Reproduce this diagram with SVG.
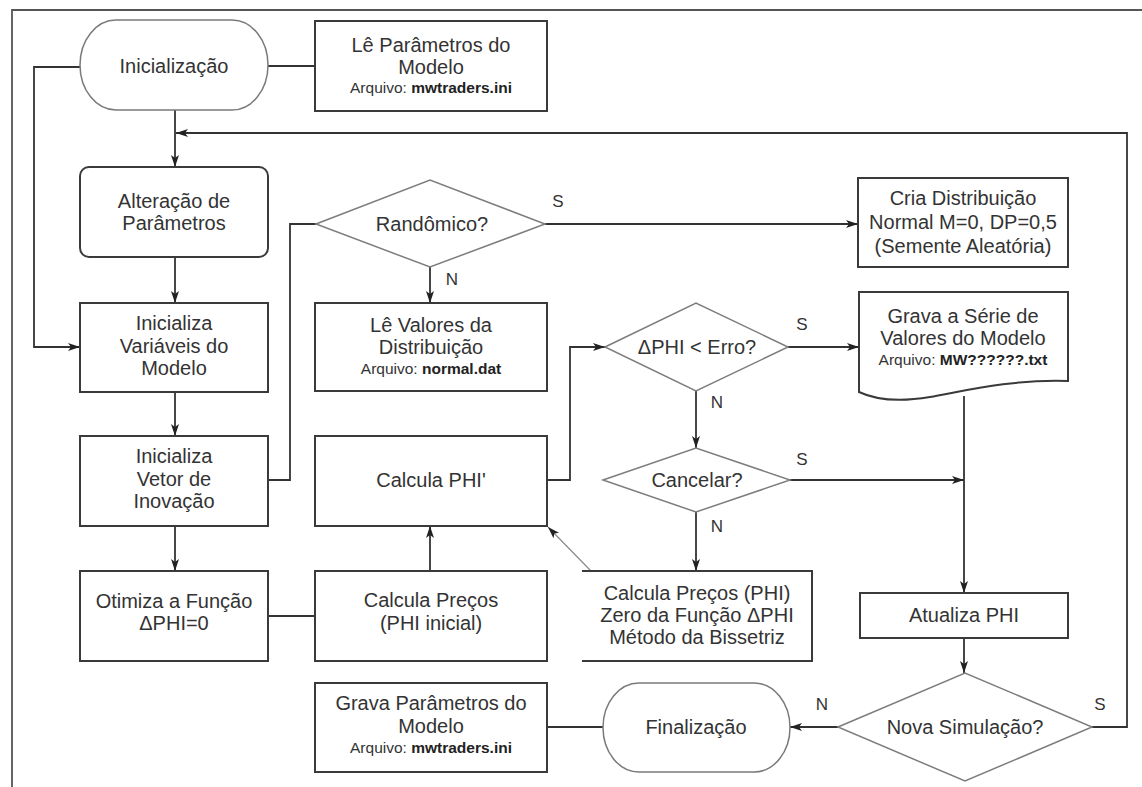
<svg xmlns="http://www.w3.org/2000/svg" width="1142" height="787" viewBox="0 0 1142 787">
<defs>
<style>
.box{fill:#fff;stroke:#3a3a3a;stroke-width:2}
.term{fill:#fff;stroke:#7a7a7a;stroke-width:1.5}
.dia{fill:#fff;stroke:#7d7d7d;stroke-width:1.5}
.ln{fill:none;stroke:#333;stroke-width:1.8}
.thin{fill:none;stroke:#8a8a8a;stroke-width:1.2}
text{font-family:"Liberation Sans",Arial,sans-serif;fill:#333;text-anchor:middle}
.t{font-size:20px}
.s{font-size:15.5px}
.b{font-weight:bold;fill:#222}
.lb{font-size:17px;fill:#333}
</style>
<marker id="ar" viewBox="0 0 12 8" refX="12" refY="4" markerWidth="12" markerHeight="8" markerUnits="userSpaceOnUse" orient="auto">
<path d="M0,0 L12,4 L0,8 L3,4 Z" fill="#222"/>
</marker>
</defs>
<rect width="1142" height="787" fill="#fff"/>
<path d="M12,787 V10 H1142" fill="none" stroke="#555" stroke-width="1.8"/>

<g id="connectors">
<path class="ln" d="M268,66 H315"/>
<path class="ln" d="M80,67 H34 V347 H80" marker-end="url(#ar)"/>
<path class="ln" d="M175,110 V167" marker-end="url(#ar)"/>
<path class="ln" d="M1092,727 H1127 V133 H176" marker-end="url(#ar)"/>
<path class="ln" d="M175,257 V303" marker-end="url(#ar)"/>
<path class="ln" d="M175,392 V436" marker-end="url(#ar)"/>
<path class="ln" d="M175,526 V571" marker-end="url(#ar)"/>
<path class="ln" d="M268,616 H315"/>
<path class="ln" d="M268,480 H290 V224 H316"/>
<path class="ln" d="M545,224 H858" marker-end="url(#ar)"/>
<path class="ln" d="M430,267 V303" marker-end="url(#ar)"/>
<path class="ln" d="M430,571 V526" marker-end="url(#ar)"/>
<path class="ln" d="M547,480 H570 V347 H605" marker-end="url(#ar)"/>
<path class="ln" d="M788,347 H859" marker-end="url(#ar)"/>
<path class="ln" d="M696,391 V448" marker-end="url(#ar)"/>
<path class="ln" d="M696,512 V571" marker-end="url(#ar)"/>
<path class="ln" d="M790,480 H964" marker-end="url(#ar)"/>
<path class="ln" d="M964,396 V593" marker-end="url(#ar)"/>
<path class="ln" d="M964,638 V673" marker-end="url(#ar)"/>
<path class="ln" d="M838,727 H790" marker-end="url(#ar)"/>
<path class="ln" d="M603,727 H547"/>
<path class="thin" d="M591,571 L548,527" marker-end="url(#ar)"/>
<text class="lb" x="558" y="207">S</text>
<text class="lb" x="452" y="285">N</text>
<text class="lb" x="802" y="330">S</text>
<text class="lb" x="717" y="408">N</text>
<text class="lb" x="802" y="465">S</text>
<text class="lb" x="717" y="532">N</text>
<text class="lb" x="822" y="710">N</text>
<text class="lb" x="1100" y="710">S</text>
</g>

<g id="inicializacao">
<rect class="term" x="80" y="20" width="188" height="90" rx="36" ry="45"/>
<text class="t" x="174" y="73">Inicialização</text>
</g>

<g id="le-parametros">
<rect class="box" x="315" y="21" width="232" height="90"/>
<text class="t" x="431" y="52">Lê Parâmetros do</text>
<text class="t" x="431" y="74">Modelo</text>
<text class="s" x="431" y="93">Arquivo: <tspan class="b">mwtraders.ini</tspan></text>
</g>

<g id="alteracao">
<rect class="box" x="80" y="167" width="188" height="90" rx="9" ry="9"/>
<text class="t" x="174" y="208">Alteração de</text>
<text class="t" x="174" y="230">Parâmetros</text>
</g>

<g id="randomico">
<polygon class="dia" points="316,224 430,180 545,224 430,267"/>
<text class="t" x="432" y="231">Randômico?</text>
</g>

<g id="cria-distribuicao">
<rect class="box" x="858" y="178" width="210" height="89"/>
<text class="t" x="963" y="205">Cria Distribuição</text>
<text class="t" x="963" y="229">Normal M=0, DP=0,5</text>
<text class="t" x="963" y="253">(Semente Aleatória)</text>
</g>

<g id="inicializa-variaveis">
<rect class="box" x="80" y="303" width="188" height="89"/>
<text class="t" x="174" y="330">Inicializa</text>
<text class="t" x="174" y="353">Variáveis do</text>
<text class="t" x="174" y="375">Modelo</text>
</g>

<g id="le-valores">
<rect class="box" x="315" y="303" width="232" height="88"/>
<text class="t" x="431" y="332">Lê Valores da</text>
<text class="t" x="431" y="354">Distribuição</text>
<text class="s" x="431" y="374">Arquivo: <tspan class="b">normal.dat</tspan></text>
</g>

<g id="delta-phi-erro">
<polygon class="dia" points="605,347 696,303 788,347 696,391"/>
<text class="t" x="697" y="354">ΔPHI &lt; Erro?</text>
</g>

<g id="grava-serie">
<path class="box" d="M859,292 H1068 V381 C1010,379 960,392 930,397 C900,402 878,401 859,392 Z"/>
<text class="t" x="963" y="323">Grava a Série de</text>
<text class="t" x="963" y="345">Valores do Modelo</text>
<text class="s" x="963" y="365">Arquivo: <tspan class="b">MW??????.txt</tspan></text>
</g>

<g id="inicializa-vetor">
<rect class="box" x="80" y="436" width="188" height="90"/>
<text class="t" x="174" y="463">Inicializa</text>
<text class="t" x="174" y="486">Vetor de</text>
<text class="t" x="174" y="508">Inovação</text>
</g>

<g id="calcula-phi-linha">
<rect class="box" x="315" y="436" width="232" height="90"/>
<text class="t" x="431" y="487">Calcula PHI'</text>
</g>

<g id="cancelar">
<polygon class="dia" points="603,480 696,448 790,480 696,512"/>
<text class="t" x="697" y="487">Cancelar?</text>
</g>

<g id="otimiza">
<rect class="box" x="80" y="571" width="188" height="90"/>
<text class="t" x="174" y="608">Otimiza a Função</text>
<text class="t" x="174" y="630">ΔPHI=0</text>
</g>

<g id="calcula-precos-inicial">
<rect class="box" x="315" y="571" width="232" height="90"/>
<text class="t" x="431" y="607">Calcula Preços</text>
<text class="t" x="431" y="630">(PHI inicial)</text>
</g>

<g id="calcula-precos-phi">
<rect x="582" y="571" width="230" height="90" fill="#fff"/>
<path class="box" d="M582,571 H812 V661 H582" fill="none"/>
<text class="t" x="697" y="600">Calcula Preços (PHI)</text>
<text class="t" x="697" y="622">Zero da Função ΔPHI</text>
<text class="t" x="697" y="644">Método da Bissetriz</text>
</g>

<g id="atualiza-phi">
<rect class="box" x="860" y="593" width="208" height="45"/>
<text class="t" x="964" y="622">Atualiza PHI</text>
</g>

<g id="grava-parametros">
<rect class="box" x="315" y="683" width="232" height="89"/>
<text class="t" x="431" y="710">Grava Parâmetros do</text>
<text class="t" x="431" y="733">Modelo</text>
<text class="s" x="431" y="753">Arquivo: <tspan class="b">mwtraders.ini</tspan></text>
</g>

<g id="finalizacao">
<rect class="term" x="603" y="683" width="187" height="89" rx="36" ry="44.5"/>
<text class="t" x="696" y="734">Finalização</text>
</g>

<g id="nova-simulacao">
<polygon class="dia" points="838,727 965,673 1092,727 965,781"/>
<text class="t" x="965" y="734">Nova Simulação?</text>
</g>
</svg>
